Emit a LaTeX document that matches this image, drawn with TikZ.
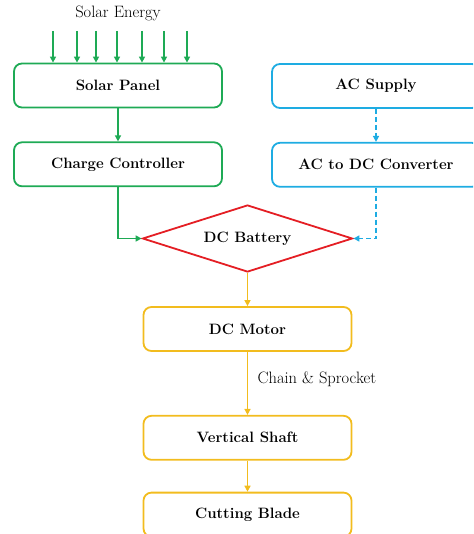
\documentclass[tikz,border=0pt]{standalone}
\usepackage{tikz}
\usetikzlibrary{shapes.geometric, arrows.meta, positioning}

\definecolor{sgreen}{RGB}{30,170,85}
\definecolor{sblue}{RGB}{30,172,226}
\definecolor{sred}{RGB}{228,30,36}
\definecolor{syellow}{RGB}{242,188,30}

\begin{document}
\begin{tikzpicture}[x=1pt, y=-1pt, node distance=33pt,
	main/.style = {draw, rounded corners=8pt, minimum width=208pt, minimum height=44pt, line width=1.8pt, font=\fontsize{15}{17}\selectfont\bfseries},
	batt/.style = {draw, diamond, aspect=3.13, minimum width=210pt, minimum height=67pt, inner sep=0pt, line width=1.8pt, font=\fontsize{15}{17}\selectfont\bfseries},
	arr/.style = {line width=1.5pt, -{Triangle[length=6pt, width=6pt]}},
	dashline/.style = {dash pattern=on 5pt off 3pt}]
	\clip (0,0) rectangle (473,534);

	\node[font=\fontsize{16.5}{18}\selectfont] (se) at (118,13) {Solar Energy};
	\node[main, sgreen, text=black] (sp) at (118,85.5) {Solar Panel};
	\node[main, sgreen, text=black] (cc) [below=of sp] {Charge Controller};
	\node[main, sblue, text=black] (ac) at (376,86) {AC Supply};
	\node[main, sblue, text=black] (conv) [below=of ac] {AC to DC Converter};
	\node[batt, sred, text=black] (bat) at (247.5,238.5) {DC Battery};
	\node[main, syellow, text=black] (mot) at (247.5,329) {DC Motor};
	\node[main, syellow, text=black] (shaft) [below=63pt of mot] {Vertical Shaft};
	\node[main, syellow, text=black] (blade) [below=31pt of shaft] {Cutting Blade};

	% sun rays
	\foreach \x in {53,77,96,117,142,164,187} {
		\coordinate (ray\x) at (\x,31);
		\draw[arr, sgreen] (ray\x) -- (ray\x |- sp.north);
	}

	\draw[arr, sgreen] (sp) -- (cc);
	\draw[arr, sgreen] (cc) |- (bat.west);
	\draw[arr, sblue, dashline] (ac) -- (conv);
	\draw[arr, sblue, dashline] (conv) |- (bat.east);
	\draw[arr, syellow] (bat) -- (mot);
	\draw[arr, syellow] (mot) -- node[right=6pt, yshift=4pt, text=black, font=\fontsize{16.5}{18}\selectfont] {Chain \& Sprocket} (shaft);
	\draw[arr, syellow] (shaft) -- (blade);
\end{tikzpicture}
\end{document}
